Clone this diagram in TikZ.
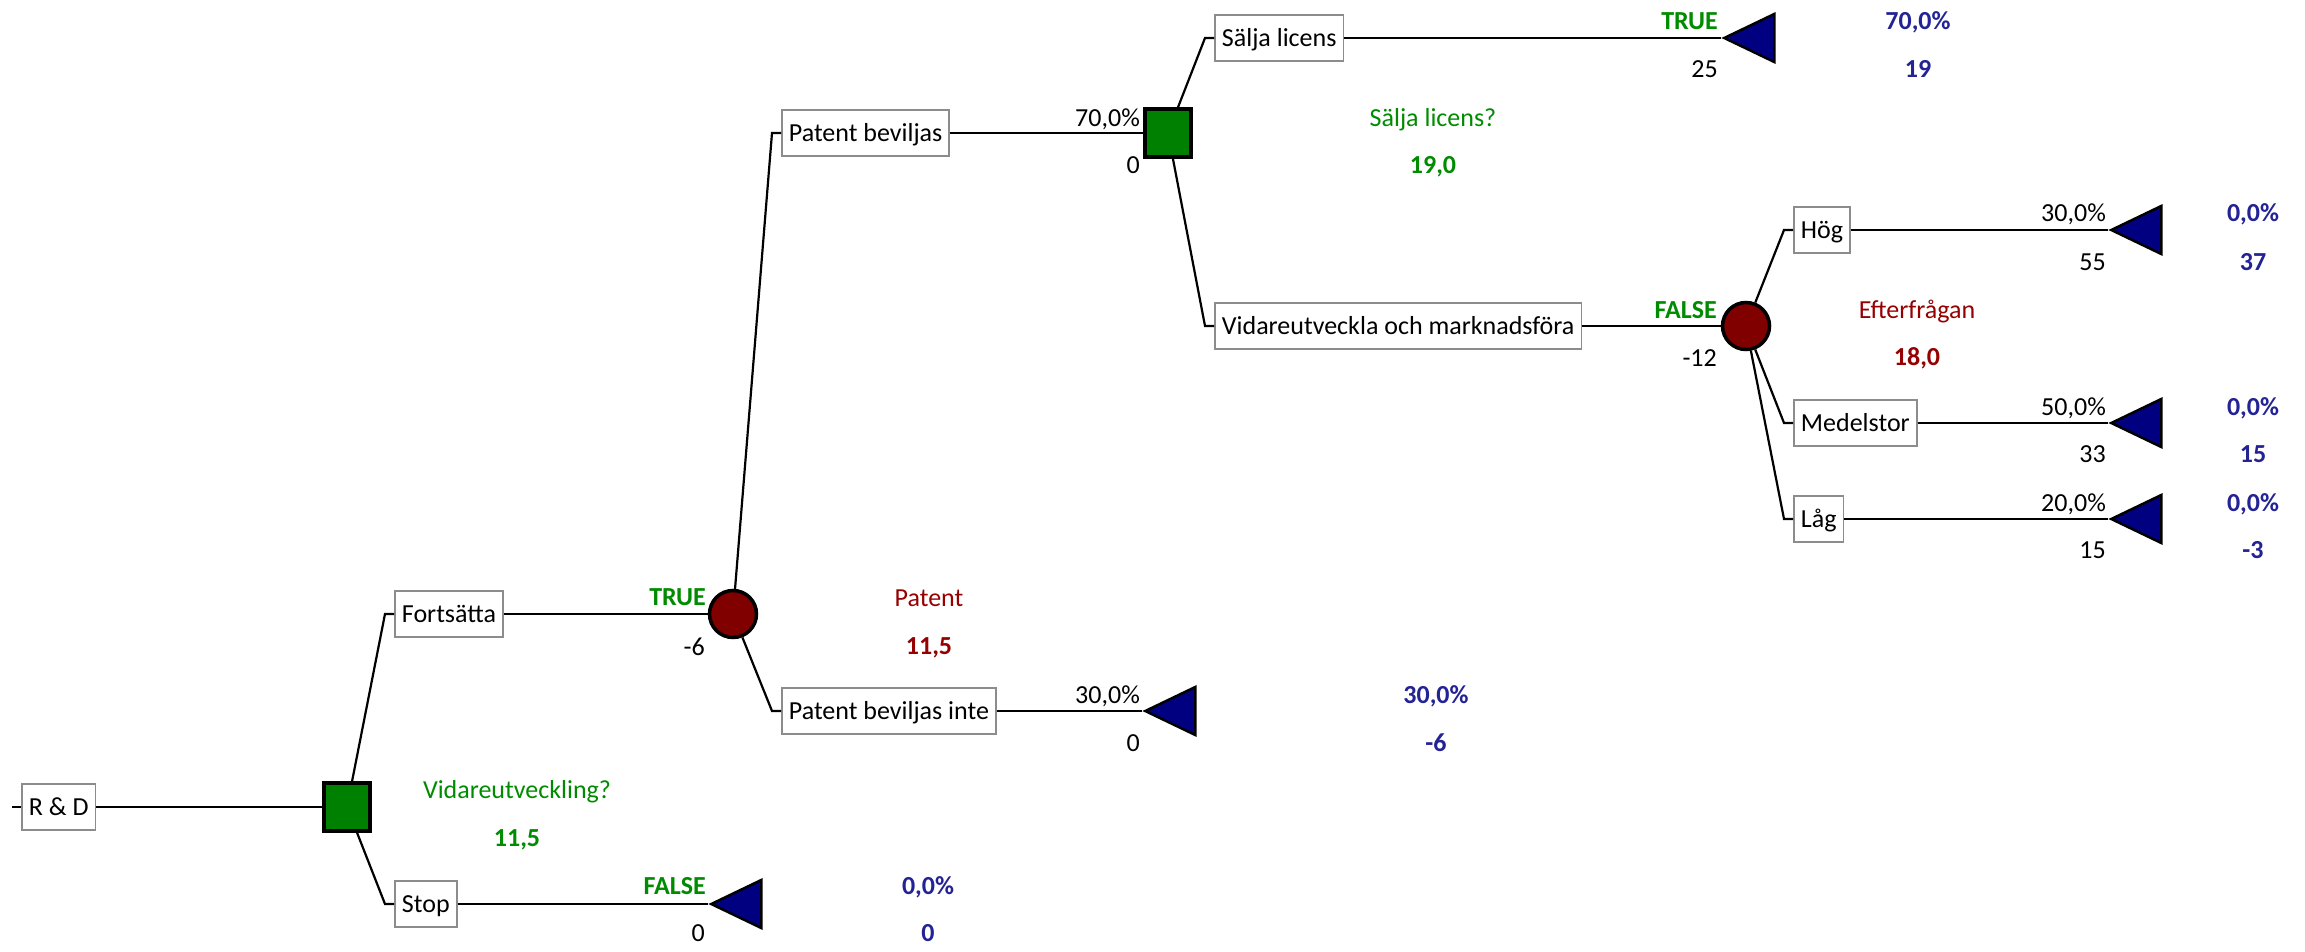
\documentclass[tikz,border=0pt]{standalone}
\usepackage{fontspec}
\setmainfont{Carlito}
\usetikzlibrary{shapes.geometric}
\definecolor{decgreen}{RGB}{0,128,0}
\definecolor{chancered}{RGB}{128,0,0}
\definecolor{termblue}{RGB}{0,0,128}
\definecolor{lblgreen}{RGB}{0,140,0}
\definecolor{lblred}{RGB}{150,0,0}
\definecolor{lblblue}{RGB}{35,35,150}
\definecolor{boxgray}{RGB}{140,140,140}
\newcommand{\lblsize}{\fontsize{26}{30}\selectfont}

\begin{document}
\begin{tikzpicture}[x=1pt,y=-1pt,
  branch/.style={line width=2.2pt, black},
  namebox/.style={draw=boxgray, line width=1.8pt, fill=white, anchor=west,
    minimum height=46pt, inner xsep=7pt, inner ysep=0pt,
    text height=17pt, text depth=0pt, font=\lblsize},
  decision/.style={rectangle, draw=black, fill=decgreen, line width=3.5pt,
    minimum width=46pt, minimum height=48pt, inner sep=0pt},
  chance/.style={circle, draw=black, fill=chancered, line width=3.5pt,
    minimum size=47pt, inner sep=0pt},
  terminal/.style={isosceles triangle, isosceles triangle stretches,
    shape border rotate=180, draw=black, fill=termblue, line width=2.5pt,
    minimum width=48pt, minimum height=50pt, inner sep=0pt, anchor=apex},
  lbl/.style={inner sep=0pt, text height=17pt, text depth=0pt, font=\lblsize},
  truefalse/.style={lbl, anchor=east, text=lblgreen, font=\lblsize\bfseries},
  branchval/.style={lbl, anchor=east, text=black},
  decname/.style={lbl, text=lblgreen},
  decval/.style={lbl, text=lblgreen, font=\lblsize\bfseries},
  chname/.style={lbl, text=lblred},
  chval/.style={lbl, text=lblred, font=\lblsize\bfseries},
  payoff/.style={lbl, text=lblblue, font=\lblsize\bfseries}
]
\useasboundingbox[fill=white] (0,0) rectangle (2305,952);

% ---------- nodes of the tree ----------
\node[namebox] (rd) at (21,807) {R \& D};
\coordinate (rdin) at (12,807);

\node[decision] (d1) at (347,807) {};
\node[namebox] (fort) at (394,614) {Fortsätta};
\node[namebox] (stop) at (394,904) {Stop};
\coordinate (kfort) at (385,614);
\coordinate (kstop) at (385,904);

\node[chance] (c1) at (733,614) {};
\node[terminal] (tstop) at (708,904) {};

\node[namebox] (pb) at (781,133) {Patent beviljas};
\node[namebox] (pbi) at (781,711) {Patent beviljas inte};
\coordinate (kpb) at (772,133);
\coordinate (kpbi) at (772,711);
\node[terminal] (tpbi) at (1142,711) {};

\node[decision] (d2) at (1168,133) {};
\node[namebox] (sl) at (1214,38) {Sälja licens};
\node[namebox] (vm) at (1214,326) {Vidareutveckla och marknadsföra};
\coordinate (ksl) at (1205,38);
\coordinate (kvm) at (1205,326);
\node[terminal] (tsl) at (1721,38) {};

\node[chance] (c2) at (1746,326) {};
\node[namebox] (hog) at (1793,230) {Hög};
\node[namebox] (med) at (1793,423) {Medelstor};
\node[namebox] (lag) at (1793,519) {Låg};
\coordinate (khog) at (1784,230);
\coordinate (kmed) at (1784,423);
\coordinate (klag) at (1784,519);
\node[terminal] (thog) at (2108,230) {};
\node[terminal] (tmed) at (2108,423) {};
\node[terminal] (tlag) at (2108,519) {};

% ---------- branches ----------
\draw[branch] (rdin) -- (rd.west);
\draw[branch] (rd.east) -- (d1);
\draw[branch] (d1) -- (kfort) -- (fort.west);
\draw[branch] (d1) -- (kstop) -- (stop.west);
\draw[branch] (fort.east) -- (c1);
\draw[branch] (stop.east) -- (tstop.apex);
\draw[branch] (c1) -- (kpb) -- (pb.west);
\draw[branch] (c1) -- (kpbi) -- (pbi.west);
\draw[branch] (pbi.east) -- (tpbi.apex);
\draw[branch] (pb.east) -- (d2);
\draw[branch] (d2) -- (ksl) -- (sl.west);
\draw[branch] (d2) -- (kvm) -- (vm.west);
\draw[branch] (sl.east) -- (tsl.apex);
\draw[branch] (vm.east) -- (c2);
\draw[branch] (c2) -- (khog) -- (hog.west);
\draw[branch] (c2) -- (kmed) -- (med.west);
\draw[branch] (c2) -- (klag) -- (lag.west);
\draw[branch] (hog.east) -- (thog.apex);
\draw[branch] (med.east) -- (tmed.apex);
\draw[branch] (lag.east) -- (tlag.apex);

% ---------- node names and values ----------
\node[decname] (n1) at (517,790) {Vidareutveckling?};
\node[decval] (v1) at (517,838) {11,5};
\node[chname] (n2) at (929,598) {Patent};
\node[chval] (v2) at (929,646) {11,5};
\node[decname] (n3) at (1433,118) {Sälja licens?};
\node[decval] (v3) at (1433,165) {19,0};
\node[chname] (n4) at (1917,310) {Efterfrågan};
\node[chval] (v4) at (1917,357) {18,0};

% ---------- branch labels ----------
\node[truefalse] (b1) at (706,597) {TRUE};
\node[branchval] (b1v) at (705,647) {-6};
\node[truefalse] (b2) at (706,886) {FALSE};
\node[branchval] (b2v) at (705,933) {0};
\node[branchval] (b3) at (1140,118) {70,0\%};
\node[branchval] (b3v) at (1140,165) {0};
\node[branchval] (b4) at (1140,695) {30,0\%};
\node[branchval] (b4v) at (1140,743) {0};
\node[truefalse] (b5) at (1718,21) {TRUE};
\node[branchval] (b5v) at (1718,69) {25};
\node[truefalse] (b6) at (1717,310) {FALSE};
\node[branchval] (b6v) at (1717,358) {-12};
\node[branchval] (b7) at (2106,213) {30,0\%};
\node[branchval] (b7v) at (2106,262) {55};
\node[branchval] (b8) at (2106,407) {50,0\%};
\node[branchval] (b8v) at (2106,454) {33};
\node[branchval] (b9) at (2106,503) {20,0\%};
\node[branchval] (b9v) at (2106,550) {15};

% ---------- end-point results ----------
\node[payoff] (p1) at (928,886) {0,0\%};
\node[payoff] (p1v) at (928,933) {0};
\node[payoff] (p2) at (1436,695) {30,0\%};
\node[payoff] (p2v) at (1436,743) {-6};
\node[payoff] (p3) at (1918,21) {70,0\%};
\node[payoff] (p3v) at (1918,69) {19};
\node[payoff] (p4) at (2253,213) {0,0\%};
\node[payoff] (p4v) at (2253,262) {37};
\node[payoff] (p5) at (2253,407) {0,0\%};
\node[payoff] (p5v) at (2253,454) {15};
\node[payoff] (p6) at (2253,503) {0,0\%};
\node[payoff] (p6v) at (2253,550) {-3};
\end{tikzpicture}
\end{document}
